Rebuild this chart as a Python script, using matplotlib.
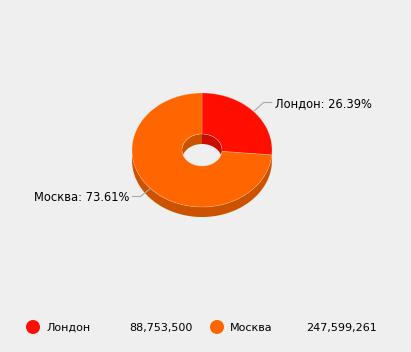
import numpy as np
import matplotlib.pyplot as plt
from matplotlib.patches import Polygon, Ellipse

cities = ["Лондон", "Москва"]
values = [88753500, 247599261]
colors = ["#FF0F00", "#FF6600"]
side_colors = ["#CC0C00", "#CC5200"]

BG = "#EFEFEF"
cx, cy = 202, 150
rx, ry = 70, 57
irx, iry = 20, 16
depth = 10


def arc(a0, a1, rx_, ry_, dy=0, n=120):
  t = np.radians(np.linspace(a0, a1, n))
  return np.column_stack([cx + rx_ * np.sin(t), cy + dy - ry_ * np.cos(t)])


def wall(a0, a1, rx_, ry_):
  top = arc(a0, a1, rx_, ry_)
  bot = arc(a1, a0, rx_, ry_, dy=depth)
  return np.vstack([top, bot])


def overlap(a0, a1, lo, hi):
  s, e = max(a0, lo), min(a1, hi)
  return (s, e) if s < e else None


fig = plt.figure(figsize=(4.11, 3.52), dpi=100, facecolor=BG)
ax = fig.add_axes([0, 0, 1, 1])
ax.set_facecolor(BG)
ax.set_xlim(0, 411)
ax.set_ylim(352, 0)
ax.axis("off")

total = float(sum(values))
angles = np.concatenate([[0], np.cumsum(values) / total * 360])

hole = Ellipse((cx, cy), 2 * irx, 2 * iry, transform=ax.transData)

for i in range(len(values)):
  a0, a1 = angles[i], angles[i + 1]
  # outer front wall
  ov = overlap(a0, a1, 90, 270)
  if ov:
    ax.add_patch(Polygon(wall(*ov, rx, ry), closed=True, fc=side_colors[i], ec="none", zorder=1))
  # inner back wall seen through the hole
  for lo, hi in [(0, 90), (270, 360)]:
    ov = overlap(a0, a1, lo, hi)
    if ov:
      p = Polygon(wall(*ov, irx, iry), closed=True, fc=side_colors[i], ec="none", zorder=1)
      ax.add_patch(p)
      p.set_clip_path(hole)
  # top face
  outer = arc(a0, a1, rx, ry)
  inner = arc(a1, a0, irx, iry)
  ax.add_patch(Polygon(np.vstack([outer, inner]), closed=True, fc=colors[i],
                       ec=(1, 1, 1, 0.25), lw=0.6, zorder=2))

# labels
for i in range(len(values)):
  mid = np.radians((angles[i] + angles[i + 1]) / 2)
  px, py = cx + rx * np.sin(mid), cy - ry * np.cos(mid)
  side = 1 if np.sin(mid) > 0 else -1
  qx, qy = px + side * 10, py + (-9 if np.cos(mid) > 0 else 8)
  ex = qx + side * 8
  ax.plot([px, qx, ex], [py, qy, qy], color="#AAAAAA", lw=0.8, zorder=3)
  pct = values[i] / total * 100
  ax.text(ex + side * 3, qy + 1, f"{cities[i]}: {pct:.2f}%", fontsize=8.3,
          ha="left" if side > 0 else "right", va="center", color="#000000", zorder=4)

# legend
leg_x = [33, 217]
val_right = [193, 377]
leg_y = 327
for i in range(len(values)):
  ax.add_patch(Ellipse((leg_x[i], leg_y), 14, 14, fc=colors[i], ec="none"))
  ax.text(leg_x[i] + 13, leg_y + 1, cities[i], fontsize=8, ha="left", va="center", color="#000000")
  ax.text(val_right[i], leg_y + 1, f"{values[i]:,}", fontsize=8, ha="right", va="center", color="#000000")

fig.savefig("out.png", dpi=100, facecolor=BG)
